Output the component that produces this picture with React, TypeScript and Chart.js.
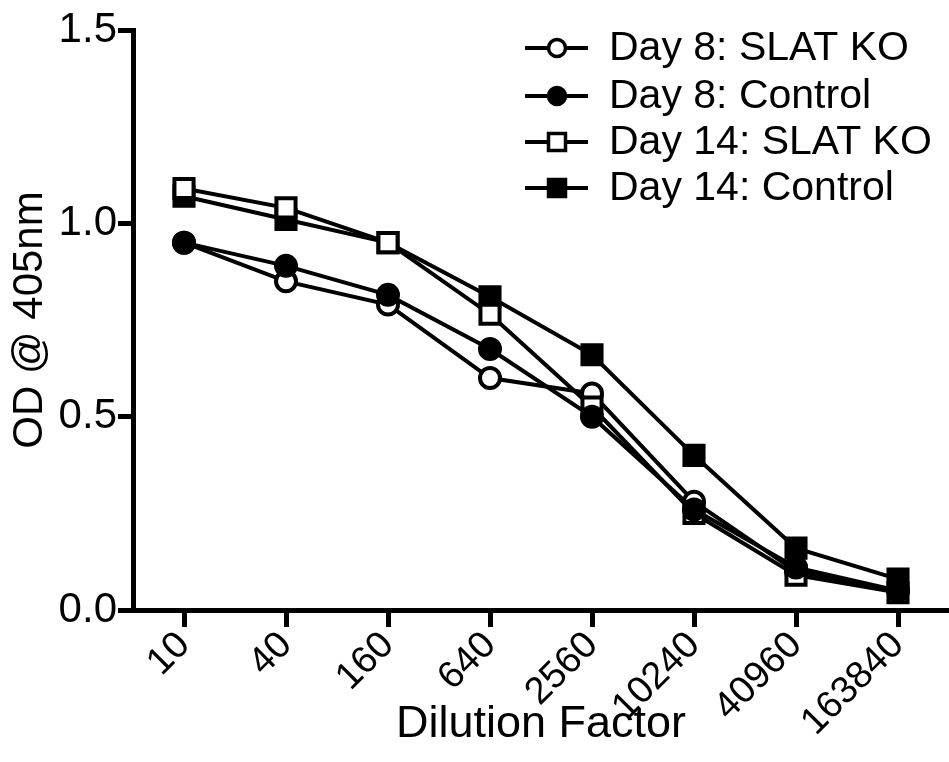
import React, { useEffect, useRef } from "react";
import { Chart, registerables } from "chart.js";

Chart.register(...registerables);

const categories = ["10", "40", "160", "640", "2560", "10240", "40960", "163840"];
const day8Ko = [0.95, 0.85, 0.79, 0.6, 0.56, 0.28, 0.1, 0.05];
const day8Control = [0.95, 0.89, 0.815, 0.675, 0.5, 0.26, 0.11, 0.05];
const day14Ko = [1.09, 1.04, 0.95, 0.765, 0.525, 0.25, 0.09, 0.045];
const day14Control = [1.07, 1.01, 0.95, 0.81, 0.66, 0.4, 0.16, 0.08];
const yTicks = [0, 0.5, 1.0, 1.5];

const FONT = "'Liberation Sans', Arial, sans-serif";

const legendPlugin = {
  id: "customLegend",
  afterDraw(chart: any) {
    const ctx = chart.ctx;
    const rows = [48, 96, 142, 188];
    ctx.save();
    chart.data.datasets.forEach((ds: any, i: number) => {
      const y = rows[i];
      ctx.strokeStyle = "#000";
      ctx.lineWidth = 4;
      ctx.beginPath();
      ctx.moveTo(525, y);
      ctx.lineTo(588, y);
      ctx.stroke();
      const cx = 557;
      ctx.fillStyle = ds.pointBackgroundColor;
      ctx.lineWidth = 3.5;
      ctx.beginPath();
      if (ds.pointStyle === "circle") {
        ctx.arc(cx, y, 8.5, 0, Math.PI * 2);
      } else {
        ctx.rect(cx - 8.5, y - 8.5, 17, 17);
      }
      ctx.fill();
      ctx.stroke();
      ctx.fillStyle = "#000";
      ctx.font = `41px ${FONT}`;
      ctx.textBaseline = "middle";
      ctx.textAlign = "left";
      ctx.fillText(ds.label, 609, y + 1);
    });
    ctx.restore();
  },
};

export default function App() {
  const ref = useRef<HTMLCanvasElement | null>(null);
  useEffect(() => {
    if (!ref.current) return;
    const mk = (label: string, data: number[], style: string, filled: boolean, order: number, radius: number) => ({
      label,
      data,
      borderColor: "#000",
      backgroundColor: "#000",
      borderWidth: 4,
      pointStyle: style,
      pointRadius: radius,
      pointBorderWidth: 4,
      pointBorderColor: "#000",
      pointBackgroundColor: filled ? "#000" : "#fff",
      tension: 0,
      order,
    });
    const chart = new Chart(ref.current, {
      type: "line",
      data: {
        labels: categories,
        datasets: [
          mk("Day 8: SLAT KO", day8Ko, "circle", false, 3, 10),
          mk("Day 8: Control", day8Control, "circle", true, 1, 10),
          mk("Day 14: SLAT KO", day14Ko, "rect", false, 2, 13.5),
          mk("Day 14: Control", day14Control, "rect", true, 4, 13.5),
        ],
      },
      options: {
        animation: false,
        responsive: false,
        maintainAspectRatio: false,
        layout: { autoPadding: false, padding: { top: 30, left: 0, right: 0, bottom: 0 } },
        plugins: { legend: { display: false }, tooltip: { enabled: false } },
        scales: {
          x: {
            type: "category",
            offset: true,
            afterFit: (s: any) => {
              s.height = 152;
              s.paddingLeft = 0;
              s.paddingRight = 0;
            },
            grid: {
              offset: false,
              drawOnChartArea: false,
              drawTicks: true,
              tickLength: 17,
              tickWidth: 5,
              tickColor: "#000",
            },
            border: { display: true, color: "#000", width: 5 },
            ticks: {
              color: "#000",
              font: { family: FONT, size: 38 },
              minRotation: 45,
              maxRotation: 45,
              padding: -4,
              autoSkip: false,
            },
            title: {
              display: true,
              text: "Dilution Factor",
              color: "#000",
              font: { family: FONT, size: 45 },
              padding: { top: 0, bottom: 10 },
            },
          },
          y: {
            min: 0,
            max: 1.5,
            afterFit: (s: any) => {
              s.width = 133;
            },
            afterBuildTicks: (s: any) => {
              s.ticks = yTicks.map((v) => ({ value: v }));
            },
            grid: {
              drawOnChartArea: false,
              drawTicks: true,
              tickLength: 15,
              tickWidth: 5,
              tickColor: "#000",
            },
            border: { display: true, color: "#000", width: 5 },
            ticks: {
              color: "#000",
              font: { family: FONT, size: 42 },
              padding: 1,
              callback: (v: any) => Number(v).toFixed(1),
            },
            title: {
              display: true,
              text: "OD @ 405nm",
              color: "#000",
              font: { family: FONT, size: 42 },
              padding: { top: 5, bottom: 0 },
            },
          },
        },
      } as any,
      plugins: [legendPlugin],
    });
    return () => chart.destroy();
  }, []);
  return (
    <div style={{ position: "absolute", left: 0, top: 0, width: 949, height: 762, background: "#fff" }}>
      <canvas ref={ref} width={949} height={762} style={{ width: 949, height: 762 }} />
    </div>
  );
}
